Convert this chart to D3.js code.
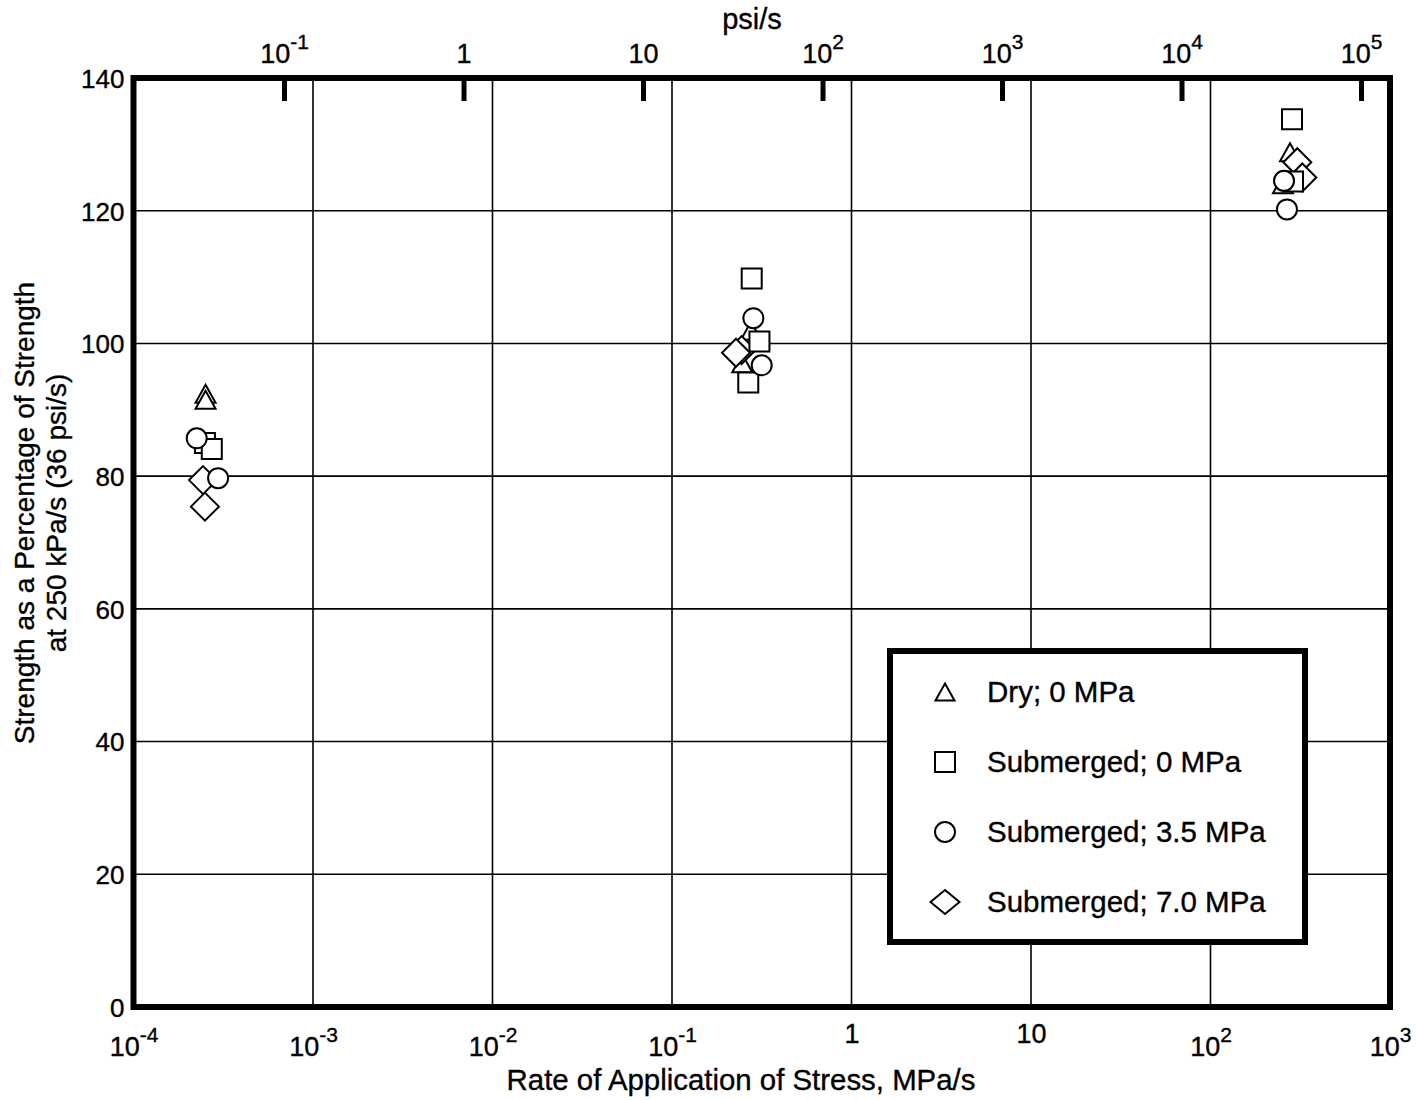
<!DOCTYPE html>
<html>
<head>
<meta charset="utf-8">
<script src="https://cdn.jsdelivr.net/npm/d3@7"></script>
<style>
  html, body { margin: 0; padding: 0; background: #fff; }
  svg { display: block; }
  text { font-family: "Liberation Sans", Arial, Helvetica, sans-serif; fill: #000; stroke: #000; stroke-width: 0.35px; }
</style>
</head>
<body>
<svg id="chart" width="1416" height="1100"></svg>
<script>
// Rate of stress application (MPa/s) and strength (% of strength at 250 kPa/s)
const dryRate        = [2.52e-4, 2.52e-4, 0.2754, 0.2463, 277.3, 253.5];
const dryStrength    = [92.4, 91.5, 101.9, 97.0, 128.8, 124.0];

const sub0Rate       = [2.50e-4, 2.73e-4, 0.278, 0.307, 0.266, 284.5, 288.2];
const sub0Strength   = [85.0, 84.1, 109.8, 100.3, 94.1, 133.8, 124.4];

const sub35Rate      = [2.25e-4, 2.96e-4, 0.284, 0.316, 256.8, 266.7];
const sub35Strength  = [85.7, 79.7, 103.8, 96.7, 124.5, 120.2];

const sub70Rate      = [2.44e-4, 2.50e-4, 0.2443, 0.2273, 304.5, 324.7];
const sub70Strength  = [79.4, 75.4, 99.0, 98.6, 127.3, 125.0];

const seriesNames = ["Dry; 0 MPa", "Submerged; 0 MPa", "Submerged; 3.5 MPa", "Submerged; 7.0 MPa"];
const seriesShapes = ["triangle", "square", "circle", "diamond"];

// Axis ticks and their labels (base, exponent)
const mpaTicks = [1e-4, 1e-3, 1e-2, 1e-1, 1, 10, 1e2, 1e3];
const mpaTickLabels = [["10", "-4"], ["10", "-3"], ["10", "-2"], ["10", "-1"], ["1", ""], ["10", ""], ["10", "2"], ["10", "3"]];
const psiTicks = [1e-1, 1, 10, 1e2, 1e3, 1e4, 1e5];
const psiTickLabels = [["10", "-1"], ["1", ""], ["10", ""], ["10", "2"], ["10", "3"], ["10", "4"], ["10", "5"]];
const strengthTicks = [0, 20, 40, 60, 80, 100, 120, 140];

const MPA_PER_PSI = 0.006894757;

const svg = d3.select("#chart");
const plotL = 133.5, plotR = 1390, plotT = 78, plotB = 1007;

const x = d3.scaleLog().domain([1e-4, 1e3]).range([plotL, plotR]);
const xPsi = d3.scaleLog().domain([1e-4 / MPA_PER_PSI, 1e3 / MPA_PER_PSI]).range([plotL, plotR]);
const y = d3.scaleLinear().domain([0, 140]).range([plotB, plotT]);

// grid
const grid = svg.append("g").attr("stroke", "#000").attr("stroke-width", 1.6);
grid.selectAll("line.v").data(mpaTicks.slice(1, -1)).join("line")
  .attr("x1", d => x(d)).attr("x2", d => x(d)).attr("y1", plotT).attr("y2", plotB);
grid.selectAll("line.h").data(strengthTicks.slice(1, -1)).join("line")
  .attr("x1", plotL).attr("x2", plotR).attr("y1", d => y(d)).attr("y2", d => y(d));

// tick labels with superscript exponents
function superLabels(sel, labels, fontSize, supSize, supRaise) {
  sel.each(function (d, i) {
    const t = d3.select(this).text(null).attr("font-size", null).attr("font-family", null);
    const [base, exp] = labels[i];
    t.append("tspan").text(base).attr("font-size", fontSize);
    if (exp) t.append("tspan").text(exp).attr("font-size", supSize).attr("dy", -supRaise);
  });
}

const xAxis = svg.append("g").attr("transform", `translate(0,${plotB})`)
  .call(d3.axisBottom(x).tickValues(mpaTicks).tickSize(0).tickFormat(() => "x"));
xAxis.attr("font-family", null).attr("font-size", null);
xAxis.select(".domain").remove();
xAxis.selectAll(".tick text")
  .attr("y", (d, i) => mpaTickLabels[i][1] ? 49 : 36)
  .attr("dy", 0)
  .attr("text-anchor", "middle")
  .call(superLabels, mpaTickLabels, 27, 21, 14);

// top axis in psi/s
const xTop = svg.append("g").attr("transform", `translate(0,${plotT})`)
  .call(d3.axisTop(xPsi).tickValues(psiTicks).tickSizeInner(-23).tickSizeOuter(0).tickFormat(() => "x"));
xTop.attr("font-family", null).attr("font-size", null);
xTop.select(".domain").remove();
xTop.selectAll(".tick line").attr("stroke", "#000").attr("stroke-width", 5);
xTop.selectAll(".tick text")
  .attr("y", -15)
  .attr("dy", 0)
  .attr("text-anchor", "middle")
  .call(superLabels, psiTickLabels, 27, 21, 14);

// left axis
const yAxis = svg.append("g").attr("transform", `translate(${plotL},0)`)
  .call(d3.axisLeft(y).tickValues(strengthTicks).tickSize(0).tickPadding(9));
yAxis.attr("font-family", null).attr("font-size", 26);
yAxis.select(".domain").remove();
yAxis.selectAll(".tick text").attr("dy", "0.36em");

// frame
svg.append("rect")
  .attr("x", plotL).attr("y", plotT).attr("width", plotR - plotL).attr("height", plotB - plotT)
  .attr("fill", "none").attr("stroke", "#000").attr("stroke-width", 6);

// axis titles
svg.append("text").attr("x", 741).attr("y", 1090).attr("text-anchor", "middle")
  .attr("font-size", 29.4).text("Rate of Application of Stress, MPa/s");
svg.append("text").attr("x", 752).attr("y", 29).attr("text-anchor", "middle")
  .attr("font-size", 29).text("psi/s");
const yTitle = svg.append("g").attr("transform", "translate(34,513) rotate(-90)");
yTitle.append("text").attr("text-anchor", "middle").attr("font-size", 28)
  .text("Strength as a Percentage of Strength");
yTitle.append("text").attr("y", 32).attr("text-anchor", "middle").attr("font-size", 28)
  .text("at 250 kPa/s (36 psi/s)");

// marker shapes
function shapePath(kind, s) {
  switch (kind) {
    case "triangle": return `M0,${-9 * s}L${10 * s},${9 * s}L${-10 * s},${9 * s}Z`;
    case "square":   return `M${-10 * s},${-10 * s}H${10 * s}V${10 * s}H${-10 * s}Z`;
    case "diamond":  return `M0,${-14 * s}L${14 * s},0L0,${14 * s}L${-14 * s},0Z`;
    default: return null;
  }
}
function drawMarker(g, kind, cx, cy, s) {
  if (kind === "circle") {
    g.append("circle").attr("cx", cx).attr("cy", cy).attr("r", 10 * s)
      .attr("fill", "#fff").attr("stroke", "#000").attr("stroke-width", 2);
  } else {
    g.append("path").attr("d", shapePath(kind, s)).attr("transform", `translate(${cx},${cy})`)
      .attr("fill", "#fff").attr("stroke", "#000").attr("stroke-width", 2)
      .attr("stroke-linejoin", "miter");
  }
}

const series = [
  { kind: "triangle", rate: dryRate,   strength: dryStrength },
  { kind: "square",   rate: sub0Rate,  strength: sub0Strength },
  { kind: "circle",   rate: sub35Rate, strength: sub35Strength },
  { kind: "diamond",  rate: sub70Rate, strength: sub70Strength }
];
// draw order: triangles, diamonds, squares, circles
const pts = svg.append("g");
[0, 3, 1, 2].forEach(k => {
  const s = series[k];
  s.rate.forEach((r, i) => drawMarker(pts, s.kind, x(r), y(s.strength[i]), 1));
});

// legend
const lg = svg.append("g");
lg.append("rect").attr("x", 890).attr("y", 651).attr("width", 415).attr("height", 291)
  .attr("fill", "#fff").attr("stroke", "#000").attr("stroke-width", 6);
seriesNames.forEach((name, i) => {
  const cy = 692 + i * 70;
  const kind = seriesShapes[i];
  if (kind === "diamond") {
    lg.append("path").attr("d", "M0,-12L14.5,0L0,12L-14.5,0Z").attr("transform", `translate(945,${cy})`)
      .attr("fill", "#fff").attr("stroke", "#000").attr("stroke-width", 2);
  } else {
    drawMarker(lg, kind, 945, cy, kind === "triangle" ? 0.95 : 1);
  }
  lg.append("text").attr("x", 987).attr("y", cy + 10).attr("font-size", 29.5).text(name);
});
</script>
</body>
</html>
